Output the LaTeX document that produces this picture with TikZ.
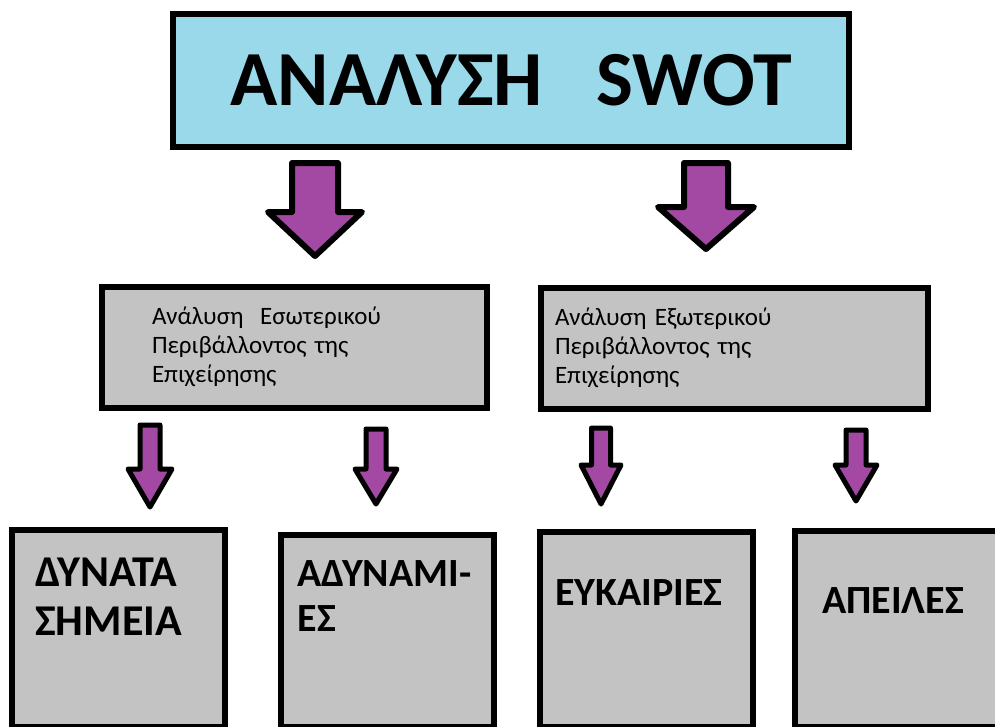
\documentclass[tikz,border=0pt]{standalone}
\usepackage{fontspec}
\setmainfont{Carlito}
\usetikzlibrary{calc,positioning}

\definecolor{swotblue}{RGB}{153,217,234}
\definecolor{arrowpurple}{RGB}{163,73,164}
\definecolor{boxgray}{RGB}{195,195,195}

\tikzset{
  titlebox/.style={draw,line width=6pt,fill=swotblue,minimum width=676pt,minimum height=133pt,inner sep=0pt,
    font=\fontsize{78}{90}\selectfont\bfseries},
  midbox/.style={draw,line width=6pt,fill=boxgray,minimum height=121pt,inner ysep=0pt,align=left,
    font=\fontsize{25}{29}\selectfont},
  lowbox/.style={draw,line width=6pt,fill=boxgray,minimum width=213pt,inner sep=0pt},
  lowtxt/.style={anchor=north west,inner sep=0pt,align=left,font=\fontsize{40}{48}\selectfont\bfseries},
  fat/.style={draw,fill=arrowpurple,line join=round}
}

% block arrow: [line width]{top}{tip}{shaft half width}{head half width}{head length}
\newcommand{\fatarrow}[6][6pt]{%
  \draw[fat,line width=#1] ($(#2)+(-#4,0)$) -- ($(#3)+(-#4,-#6)$) -- ($(#3)+(-#5,-#6)$) -- (#3)
    -- ($(#3)+(#5,-#6)$) -- ($(#3)+(#4,-#6)$) -- ($(#2)+(#4,0)$) -- cycle;}

\begin{document}
\begin{tikzpicture}[x=1pt,y=-1pt]
  \useasboundingbox (0,0) rectangle (995,726);
  \clip (0,0) rectangle (995,726);

  % title
  \node[titlebox] (swot) at (511,80) {ΑΝΑΛΥΣΗ\ \ \ SWOT};

  % internal / external analysis
  \node[midbox,minimum width=385pt,text width=285pt,inner xsep=50pt] (inner) at (294.5,347)
    {Ανάλυση\ \ Εσωτερικού\\Περιβάλλοντος της\\Επιχείρησης};
  \node[midbox,minimum width=387pt,text width=359pt,inner xsep=14pt] (outer) at (734.5,348)
    {Ανάλυση Εξωτερικού\\Περιβάλλοντος της\\Επιχείρησης};

  % the four boxes
  \node[lowbox,minimum height=197pt] (str) at (118.5,628.5) {};
  \node[lowbox,minimum height=192pt] (wea) at (387,631) {};
  \node[lowbox,minimum height=195pt] (opp) at (646.5,629.5) {};
  \node[lowbox,minimum width=215pt,minimum height=196pt] (thr) at (902.5,629) {};

  \node[lowtxt,font=\fontsize{44}{49}\selectfont\bfseries] (strtxt) at ($(str.north west)+(26,31)$) {ΔΥΝΑΤΑ\\ΣΗΜΕΙΑ};
  \node[lowtxt,font=\fontsize{40}{45}\selectfont\bfseries] (weatxt) at ($(wea.north west)+(20,28)$) {ΑΔΥΝΑΜΙ-\\ΕΣ};
  \node[lowtxt] (opptxt) at ($(opp.north west)+(18,50)$) {ΕΥΚΑΙΡΙΕΣ};
  \node[lowtxt] (thrtxt) at ($(thr.north west)+(30,59)$) {ΑΠΕΙΛΕΣ};

  % arrows
  \coordinate (a1) at (315,163); \coordinate (b1) at (315,256);
  \coordinate (a2) at (706,163); \coordinate (b2) at (706,249);
  \coordinate (a3) at (150,425); \coordinate (b3) at (150,507);
  \coordinate (a4) at (376,429); \coordinate (b4) at (376,504);
  \coordinate (a5) at (601,428); \coordinate (b5) at (601,504);
  \coordinate (a6) at (856,430); \coordinate (b6) at (856,501);

  \fatarrow{a1}{b1}{23}{47}{44}
  \fatarrow{a2}{b2}{22}{48}{42}
  \fatarrow[5pt]{a3}{b3}{10}{22}{38}
  \fatarrow[5pt]{a4}{b4}{10}{21}{35}
  \fatarrow[5pt]{a5}{b5}{9.5}{20}{39}
  \fatarrow[5pt]{a6}{b6}{10}{21}{36}
\end{tikzpicture}
\end{document}
